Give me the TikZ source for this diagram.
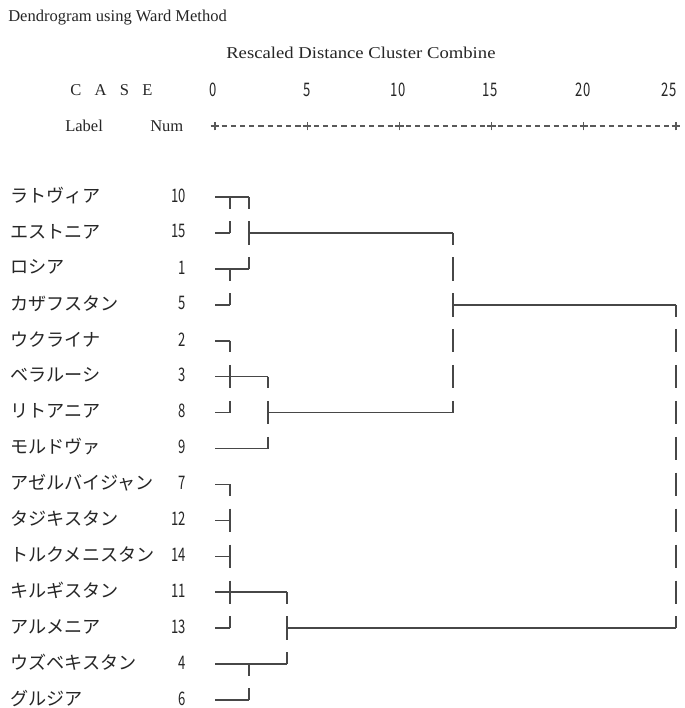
\documentclass[tikz,border=0pt]{standalone}
\usepackage{fontspec}
\usepackage{graphicx}
\setmainfont{Liberation Serif}
\newfontfamily\jp{Noto Sans CJK JP}
\tikzset{
  ln/.style={draw=black!72, line width=1.2pt},
  vln/.style={ln, dash pattern=on 17.6pt off 9.35pt, dash phase=8.8pt},
  axisln/.style={draw=black!65, line width=0.8pt},
  lat/.style={inner sep=0, anchor=west, font=\fontsize{12.4}{14}\selectfont, text=black!85},
  jname/.style={inner sep=0, anchor=west, font=\jp\fontsize{13.6}{15}\selectfont, text=black!85},
  num/.style={inner sep=0, anchor=east, font=\jp\fontsize{14}{16}\selectfont, text=black!85},
  tick/.style={inner sep=0, font=\jp\fontsize{14}{16}\selectfont, text=black!85},
}
\newcommand{\nrw}[1]{\scalebox{0.7}[1]{#1}}
\begin{document}
\begin{tikzpicture}[x=0.75pt,y=-0.75pt]
\fill[white] (0,0) rectangle (685,708);
\useasboundingbox (0,0) rectangle (685,708);
% headers
\node[lat] (title) at (8,18) {Dendrogram using Ward Method};
\node[lat] (rdcc) at (226,53) {\scalebox{1.13}[1]{Rescaled Distance Cluster Combine}};
\node[lat] (case) at (70,90) {C\hspace{10pt}A\hspace{10pt}S\hspace{10pt}E};
\node[lat] (label) at (65,126) {Label};
\node[lat] (numh) at (150,126) {Num};
\node[tick] (t0) at (213,90) {\nrw{0}};
\node[tick] (t5) at (307,90) {\nrw{5}};
\node[tick] (t10) at (398,90) {\nrw{10}};
\node[tick] (t15) at (490,90) {\nrw{15}};
\node[tick] (t20) at (583,90) {\nrw{20}};
\node[tick] (t25) at (669,90) {\nrw{25}};
% axis
\coordinate (ax0) at (221.6,126);
\coordinate (ax1) at (669.4,126);
\draw[axisln, dash pattern=on 3.9pt off 3.015pt] (ax0) -- (ax1);
\foreach \k in {0,...,5}{
  \pgfmathsetmacro\xx{215+92.2*\k}
  \coordinate (pl\k) at (\xx,126);
  \draw[axisln] ([xshift=-3.2pt]pl\k) -- ([xshift=3.2pt]pl\k);
  \draw[axisln] ([yshift=-3.2pt]pl\k) -- ([yshift=3.2pt]pl\k);
}
% rows
\foreach \nm/\nb [count=\i] in {ラトヴィア/10,エストニア/15,ロシア/1,カザフスタン/5,ウクライナ/2,ベラルーシ/3,リトアニア/8,モルドヴァ/9,アゼルバイジャン/7,タジキスタン/12,トルクメニスタン/14,キルギスタン/11,アルメニア/13,ウズベキスタン/4,グルジア/6}{
  \pgfmathsetmacro\yy{197+35.93*(\i-1)}
  \coordinate (r\i) at (0,\yy);
  \node[jname] (name\i) at (10,\yy-1.5) {\nm};
  \node[num] (num\i) at (186,\yy-1.5) {\nrw{\nb}};
}
\coordinate (x0) at (215,0);
\coordinate (xa) at (230,0);
\coordinate (xb) at (249,0);
\coordinate (xc) at (267.7,0);
\coordinate (xd) at (286.7,0);
\coordinate (xe) at (453,0);
\coordinate (xf) at (676,0);
% horizontals
\draw[ln] (x0 |- r1) -- (xb |- r1);
\draw[ln] (x0 |- r2) -- (xa |- r2);
\draw[ln] (xb |- r2) -- (xe |- r2);
\draw[ln] (x0 |- r3) -- (xb |- r3);
\draw[ln] (x0 |- r4) -- (xa |- r4);
\draw[ln] (xe |- r4) -- (xf |- r4);
\draw[ln] (x0 |- r5) -- (xa |- r5);
\draw[ln] (x0 |- r6) -- (xc |- r6);
\draw[ln] (x0 |- r7) -- (xa |- r7);
\draw[ln] (xc |- r7) -- (xe |- r7);
\draw[ln] (x0 |- r8) -- (xc |- r8);
\draw[ln] (x0 |- r9) -- (xa |- r9);
\draw[ln] (x0 |- r10) -- (xa |- r10);
\draw[ln] (x0 |- r11) -- (xa |- r11);
\draw[ln] (x0 |- r12) -- (xd |- r12);
\draw[ln] (x0 |- r13) -- (xa |- r13);
\draw[ln] (xd |- r13) -- (xf |- r13);
\draw[ln] (x0 |- r14) -- (xd |- r14);
\draw[ln] (x0 |- r15) -- (xb |- r15);
% verticals
\draw[vln] (xa |- r1) -- (xa |- r2);
\draw[vln] (xa |- r3) -- (xa |- r4);
\draw[vln] (xa |- r5) -- (xa |- r7);
\draw[vln] (xa |- r9) -- (xa |- r13);
\draw[vln] (xb |- r1) -- (xb |- r3);
\draw[vln] (xb |- r14) -- (xb |- r15);
\draw[vln] (xc |- r6) -- (xc |- r8);
\draw[vln] (xd |- r12) -- (xd |- r14);
\draw[vln] (xe |- r2) -- (xe |- r7);
\draw[vln] (xf |- r4) -- (xf |- r13);
\end{tikzpicture}
\end{document}
